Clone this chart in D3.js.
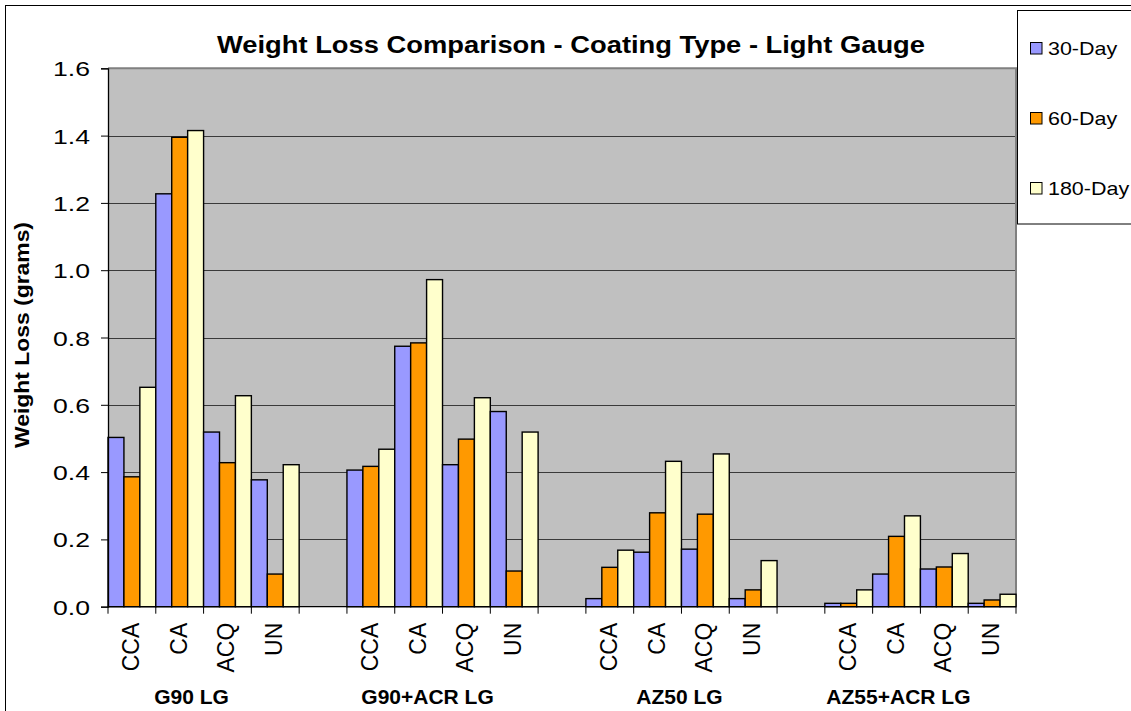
<!DOCTYPE html>
<html><head><meta charset="utf-8">
<script src="https://cdn.jsdelivr.net/npm/d3@7/dist/d3.min.js"></script>
<style>
html,body{margin:0;padding:0;background:#fff;}
svg{display:block;font-family:Arial,"Liberation Sans",sans-serif;}
</style></head>
<body>
<svg id="chart" width="1131" height="711"></svg>
<script>
// ---- data ----
const title = "Weight Loss Comparison - Coating Type - Light Gauge";
const yTitle = "Weight Loss (grams)";
const groups = ["G90 LG", "G90+ACR LG", "AZ50 LG", "AZ55+ACR LG"];
const coatings = ["CCA", "CA", "ACQ", "UN"];
const seriesNames = ["30-Day", "60-Day", "180-Day"];
const seriesColors = ["#9999FF", "#FF9900", "#FFFFCC"];
const day30  = [0.503, 1.227, 0.519, 0.377,  0.406, 0.774, 0.422, 0.580,  0.024, 0.162, 0.171, 0.024,  0.010, 0.097, 0.112, 0.010];
const day60  = [0.386, 1.395, 0.428, 0.097,  0.417, 0.784, 0.498, 0.106,  0.117, 0.279, 0.275, 0.050,  0.010, 0.209, 0.118, 0.020];
const day180 = [0.652, 1.415, 0.627, 0.422,  0.468, 0.972, 0.621, 0.519,  0.168, 0.432, 0.454, 0.137,  0.050, 0.270, 0.158, 0.037];
const yTicks = [0, 0.2, 0.4, 0.6, 0.8, 1.0, 1.2, 1.4, 1.6];

// ---- layout ----
const plot = {left: 108, right: 1016, top: 68.3, bottom: 606.7};
const groupLabelDx = [-12, -15, -2, -22];

const svg = d3.select("#chart");
const allSeries = [day30, day60, day180];

// slots: 4 coatings per group, a blank slot between groups
const slots = [];
groups.forEach((g, gi) => {
  coatings.forEach((c, ci) => slots.push({key: g + "|" + c, group: gi, coating: c, idx: gi * coatings.length + ci}));
  if (gi < groups.length - 1) slots.push({key: "blank" + gi, blank: true});
});

const x = d3.scaleBand().domain(slots.map(d => d.key)).range([plot.left, plot.right]).padding(0);
const xs = d3.scaleBand().domain(seriesNames).range([0, x.bandwidth()]).padding(0);
const y = d3.scaleLinear().domain([0, 1.6]).range([plot.bottom, plot.top]);

// outer frame
svg.append("rect").attr("x", 5.5).attr("y", 5.5).attr("width", 1200).attr("height", 800)
  .attr("fill", "#fff").attr("stroke", "#000").attr("stroke-width", 1);

// plot background
svg.append("rect").attr("x", plot.left).attr("y", plot.top)
  .attr("width", plot.right - plot.left).attr("height", plot.bottom - plot.top)
  .attr("fill", "#C0C0C0");

// gridlines
svg.append("g").selectAll("line").data(yTicks.slice(1)).join("line")
  .attr("x1", plot.left).attr("x2", plot.right)
  .attr("y1", d => Math.round(y(d)) + 0.5).attr("y2", d => Math.round(y(d)) + 0.5)
  .attr("stroke", "#3a3a3a").attr("stroke-width", 1);

// plot border top/right
svg.append("path")
  .attr("d", `M${plot.left},${plot.top}H${plot.right}V${plot.bottom}`)
  .attr("fill", "none").attr("stroke", "#808080").attr("stroke-width", 2);

// bars
const barData = [];
slots.filter(s => !s.blank).forEach(s => {
  seriesNames.forEach((sn, si) => barData.push({slot: s, series: sn, si, value: allSeries[si][s.idx]}));
});
svg.append("g").selectAll("rect").data(barData).join("rect")
  .attr("x", d => x(d.slot.key) + xs(d.series))
  .attr("width", xs.bandwidth())
  .attr("y", d => y(d.value))
  .attr("height", d => y(0) - y(d.value))
  .attr("fill", d => seriesColors[d.si])
  .attr("stroke", "#000").attr("stroke-width", 1.4);

// y axis
const yAxis = svg.append("g").attr("transform", `translate(${plot.left},0)`)
  .call(d3.axisLeft(y).tickValues(yTicks).tickFormat(d3.format(".1f")).tickSize(7).tickPadding(11));
yAxis.select(".domain").attr("stroke", "#000").attr("stroke-width", 1.3);
yAxis.selectAll(".tick line").attr("stroke", "#000");
yAxis.selectAll(".tick text").attr("font-size", 21).attr("font-family", "Arial, 'Liberation Sans', sans-serif")
  .attr("fill", "#000").attr("dy", "0.36em")
  .attr("textLength", 37).attr("lengthAdjust", "spacingAndGlyphs");

// x axis line + ticks at every slot boundary
const boundaries = slots.map(s => x(s.key)).concat([plot.right]);
svg.append("line").attr("x1", plot.left).attr("x2", plot.right)
  .attr("y1", plot.bottom).attr("y2", plot.bottom).attr("stroke", "#000").attr("stroke-width", 1.3);
svg.append("g").selectAll("line").data(boundaries).join("line")
  .attr("x1", d => d).attr("x2", d => d)
  .attr("y1", plot.bottom).attr("y2", plot.bottom + 7)
  .attr("stroke", "#000").attr("stroke-width", 1);

// coating labels (rotated)
svg.append("g").selectAll("text").data(slots.filter(s => !s.blank)).join("text")
  .attr("transform", d => `translate(${x(d.key) + x.bandwidth() / 2 + 7},${plot.bottom + 16}) rotate(-90)`)
  .attr("text-anchor", "end")
  .attr("font-size", 23)
  .attr("fill", "#000")
  .text(d => d.coating);

// group labels
svg.append("g").selectAll("text").data(groups).join("text")
  .attr("x", (g, gi) => {
    const first = x(g + "|" + coatings[0]);
    const last = x(g + "|" + coatings[coatings.length - 1]) + x.bandwidth();
    return (first + last) / 2 + groupLabelDx[gi];
  })
  .attr("y", 704)
  .attr("text-anchor", "middle")
  .attr("font-size", 21).attr("font-weight", "bold")
  .attr("fill", "#000")
  .text(d => d);

// title
svg.append("text").attr("x", 571).attr("y", 52.7).attr("text-anchor", "middle")
  .attr("font-size", 24).attr("font-weight", "bold")
  .attr("textLength", 708).attr("lengthAdjust", "spacingAndGlyphs")
  .text(title);

// y title
svg.append("text").attr("transform", "translate(29,335) rotate(-90)")
  .attr("text-anchor", "middle").attr("font-size", 20).attr("font-weight", "bold")
  .attr("textLength", 226).attr("lengthAdjust", "spacingAndGlyphs")
  .text(yTitle);

// legend
const lg = svg.append("g");
lg.append("rect").attr("x", 1017.5).attr("y", 10.5).attr("width", 200).attr("height", 213.5)
  .attr("fill", "#fff").attr("stroke", "#000").attr("stroke-width", 1);
const items = lg.selectAll("g.item").data(seriesNames).join("g").attr("class", "item")
  .attr("transform", (d, i) => `translate(1030,${42 + i * 70})`);
items.append("rect").attr("x", 0.5).attr("y", 0.5).attr("width", 11.5).attr("height", 11.5)
  .attr("fill", (d, i) => seriesColors[i]).attr("stroke", "#000").attr("stroke-width", 1);
items.append("text").attr("transform", "translate(18,12.5) scale(1.13,1)")
  .attr("font-size", 19).attr("fill", "#000")
  .text(d => d);
</script>
</body></html>
